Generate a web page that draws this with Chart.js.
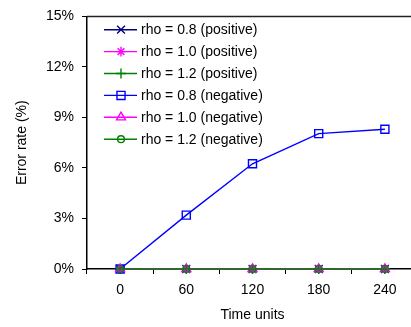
<!DOCTYPE html>
<html>
<head>
<meta charset="utf-8">
<script src="https://cdn.jsdelivr.net/npm/chart.js@4/dist/chart.umd.min.js"></script>
<style>
html,body{margin:0;padding:0;background:#fff;overflow:hidden;width:411px;height:327px;}
#wrap{position:absolute;left:0;top:0;width:418px;height:327px;}
</style>
</head>
<body>
<div id="wrap"><canvas id="c" width="418" height="327"></canvas></div>
<script>
const categories = ['0', '60', '120', '180', '240'];
const rho08Positive = [0, 0, 0, 0, 0];
const rho10Positive = [0, 0, 0, 0, 0];
const rho12Positive = [0, 0, 0, 0, 0];
const rho08Negative = [0, 3.2, 6.25, 8.04, 8.3];
const rho10Negative = [0, 0, 0, 0, 0];
const rho12Negative = [0, 0, 0, 0, 0];
const seriesLabels = ['rho = 0.8 (positive)', 'rho = 1.0 (positive)', 'rho = 1.2 (positive)',
                      'rho = 0.8 (negative)', 'rho = 1.0 (negative)', 'rho = 1.2 (negative)'];
const yTicks = [0, 3, 6, 9, 12, 15];

Chart.defaults.font.family = '"Liberation Sans", Arial, Helvetica, sans-serif';
Chart.defaults.font.size = 14;
Chart.defaults.color = '#000';

const styles = [
  {color: '#000080', pointStyle: 'crossRot', r: 5.5},
  {color: '#ff00ff', pointStyle: 'star', r: 4.8},
  {color: '#008000', pointStyle: 'cross', r: 5},
  {color: '#0000ff', pointStyle: 'rect', r: 5.7},
  {color: '#ff00ff', pointStyle: 'triangle', r: 5.2},
  {color: '#008000', pointStyle: 'circle', r: 3.4}
];
const seriesData = [rho08Positive, rho10Positive, rho12Positive, rho08Negative, rho10Negative, rho12Negative];

const datasets = seriesData.map((d, i) => ({
  label: seriesLabels[i],
  data: d,
  borderColor: styles[i].color,
  backgroundColor: 'rgba(0,0,0,0)',
  borderWidth: 1.4,
  pointStyle: styles[i].pointStyle,
  pointRadius: styles[i].r,
  pointHoverRadius: styles[i].r,
  pointBorderColor: styles[i].color,
  pointBackgroundColor: 'rgba(0,0,0,0)',
  pointBorderWidth: 1.4,
  tension: 0,
  fill: false,
  clip: false,
  order: 6 - i
}));

function fallbackPoint(ctx, style, r, x, y) {
  ctx.beginPath();
  const c = Math.SQRT1_2 * r;
  switch (style) {
    case 'crossRot': ctx.moveTo(x-c,y-c);ctx.lineTo(x+c,y+c);ctx.moveTo(x-c,y+c);ctx.lineTo(x+c,y-c);break;
    case 'cross': ctx.moveTo(x,y-r);ctx.lineTo(x,y+r);ctx.moveTo(x-r,y);ctx.lineTo(x+r,y);break;
    case 'star': ctx.moveTo(x,y-r);ctx.lineTo(x,y+r);ctx.moveTo(x-r,y);ctx.lineTo(x+r,y);
                 ctx.moveTo(x-c,y-c);ctx.lineTo(x+c,y+c);ctx.moveTo(x-c,y+c);ctx.lineTo(x+c,y-c);break;
    case 'rect': ctx.rect(x-c,y-c,2*c,2*c);break;
    case 'triangle': ctx.moveTo(x, y - r); ctx.lineTo(x + r*0.866, y + r*0.5); ctx.lineTo(x - r*0.866, y + r*0.5); ctx.closePath();break;
    default: ctx.arc(x,y,r,0,Math.PI*2);
  }
  ctx.stroke();
}

const legendPlugin = {
  id: 'inlineLegend',
  afterDraw(chart) {
    const ctx = chart.ctx;
    const a = chart.chartArea;
    ctx.save();
    // top border
    ctx.strokeStyle = '#222';
    ctx.lineWidth = 1.5;
    ctx.beginPath();
    ctx.moveTo(a.left, a.top);
    ctx.lineTo(a.right, a.top);
    ctx.stroke();
    chart.data.datasets.forEach((ds, i) => {
      const y = a.top + 13.3 + i * 21.9;
      const x0 = a.left + 17, x1 = a.left + 50, xm = a.left + 34;
      ctx.strokeStyle = ds.borderColor;
      ctx.lineWidth = 1.4;
      ctx.beginPath();
      ctx.moveTo(x0, y);
      ctx.lineTo(x1, y);
      ctx.stroke();
      fallbackPoint(ctx, ds.pointStyle, ds.pointRadius, xm, y);
      ctx.fillStyle = '#000';
      ctx.font = '14px "Liberation Sans", Arial, sans-serif';
      ctx.textBaseline = 'middle';
      ctx.textAlign = 'left';
      ctx.fillText(ds.label, a.left + 54, y + 0.5);
    });
    ctx.restore();
  }
};

new Chart(document.getElementById('c'), {
  type: 'line',
  data: {labels: categories, datasets},
  options: {
    responsive: false,
    animation: false,
    devicePixelRatio: 1,
    layout: {padding: {top: 14, left: 0, right: 0, bottom: 0}, autoPadding: false},
    plugins: {legend: {display: false}, tooltip: {enabled: false}},
    scales: {
      x: {
        type: 'category',
        offset: true,
        grid: {offset: true, drawOnChartArea: false, drawTicks: true, tickLength: 5, color: '#000', lineWidth: 1},
        border: {display: true, color: '#000', width: 1.5},
        ticks: {padding: 8, color: '#000', font: {size: 14}, maxRotation: 0},
        title: {display: true, text: 'Time units', color: '#000', font: {size: 14}, padding: {top: 0, bottom: 3}},
        afterFit(s) { s.height = 58; }
      },
      y: {
        min: 0, max: 15,
        afterBuildTicks(s) { s.ticks = yTicks.map(v => ({value: v})); },
        grid: {drawOnChartArea: false, drawTicks: true, tickLength: 5, color: '#000', lineWidth: 1},
        border: {display: true, color: '#000', width: 1.5},
        ticks: {padding: 8, color: '#000', font: {size: 14}, callback: v => v + '%'},
        title: {display: true, text: 'Error rate (%)', color: '#000', font: {size: 14}, padding: {top: 14, bottom: 0}},
        afterFit(s) { s.width = 87; }
      }
    }
  },
  plugins: [legendPlugin]
});
</script>
</body>
</html>
